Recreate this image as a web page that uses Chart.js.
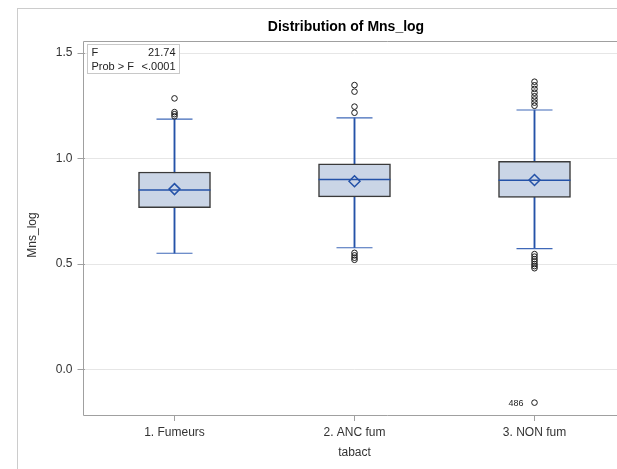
<!DOCTYPE html>
<html>
<head>
<meta charset="utf-8">
<script src="https://cdn.jsdelivr.net/npm/chart.js@4"></script>
<style>
    body { margin: 0; overflow: hidden; background: #fff; }
    .frame { position: absolute; left: 17px; top: 8px; width: 900px; height: 900px; border-left: 1px solid #cccccc; border-top: 1px solid #cccccc; }
    #chart { position: absolute; left: 0; top: 0; }
</style>
</head>
<body>
<div class="frame"></div>
<canvas id="chart" width="692" height="469"></canvas>
<script>
const categories = ['1. Fumeurs', '2. ANC fum', '3. NON fum'];
const q1 = [0.767, 0.818, 0.816];
const q3 = [0.936, 0.975, 0.987];
const medians = [0.851, 0.901, 0.897];
const means = [0.855, 0.892, 0.898];
const whiskerLow = [0.551, 0.577, 0.573];
const whiskerHigh = [1.187, 1.193, 1.230];
const outliers = [
    [1.285, 1.220, 1.210, 1.200],
    [1.348, 1.317, 1.246, 1.217, 0.553, 0.541, 0.530, 0.520],
    [1.364, 1.347, 1.330, 1.312, 1.295, 1.280, 1.265, 1.250,
     0.547, 0.535, 0.523, 0.512, 0.500, 0.490, 0.480, -0.157]
];
const labelledOutlier = { category: 2, value: -0.157, text: '486' };
const yTickValues = [0, 0.5, 1.0, 1.5];
const yTitle = 'Mns_log';
const insetLabels = ['F', 'Prob > F'];
const insetValues = ['21.74', '<.0001'];

const blue = '#2452A8';
const frameGray = '#a0a0a0';
const fontFamily = '"Liberation Sans", Arial, sans-serif';
Chart.defaults.font.family = fontFamily;
Chart.defaults.color = '#333';

const capPoints = [];
categories.forEach((c, i) => {
    capPoints.push({ x: c, y: whiskerLow[i] });
    capPoints.push({ x: c, y: whiskerHigh[i] });
});
const outlierPoints = [];
outliers.forEach((list, i) => list.forEach(v => outlierPoints.push({ x: categories[i], y: v })));

const boxPlotExtras = {
    id: 'boxPlotExtras',
    beforeDatasetsDraw(chart) {
        const { ctx, chartArea } = chart;
        const left = Math.floor(chartArea.left) - 0.5;
        ctx.save();
        ctx.strokeStyle = frameGray;
        ctx.lineWidth = 1;
        ctx.beginPath();
        ctx.moveTo(chart.width, chartArea.top + 0.5);
        ctx.lineTo(left, chartArea.top + 0.5);
        ctx.lineTo(left, chartArea.bottom + 0.5);
        ctx.lineTo(chart.width, chartArea.bottom + 0.5);
        ctx.stroke();
        // y axis title, a little below the middle like the original
        ctx.translate(33, (chartArea.top + chartArea.bottom) / 2 + 7);
        ctx.rotate(-Math.PI / 2);
        ctx.font = '12px ' + fontFamily;
        ctx.fillStyle = '#333';
        ctx.textAlign = 'center';
        ctx.textBaseline = 'middle';
        ctx.fillText(yTitle, 0, 0);
        ctx.restore();
    },
    afterDatasetsDraw(chart) {
        const { ctx, chartArea, scales } = chart;
        ctx.save();
        // inset statistics table
        const bx = Math.floor(chartArea.left) + 3.5, by = chartArea.top + 3.5;
        ctx.fillStyle = '#fff';
        ctx.strokeStyle = '#c8c8c8';
        ctx.fillRect(bx, by, 92, 29);
        ctx.strokeRect(bx, by, 92, 29);
        ctx.font = '11px ' + fontFamily;
        ctx.fillStyle = '#222';
        ctx.textBaseline = 'middle';
        insetLabels.forEach((lab, i) => {
            const ty = by + 8 + i * 14;
            ctx.textAlign = 'left';
            ctx.fillText(lab, bx + 4, ty);
            ctx.textAlign = 'right';
            ctx.fillText(insetValues[i], bx + 88, ty);
        });
        // labelled outlier
        const px = scales.x.getPixelForValue(labelledOutlier.category);
        const py = scales.y.getPixelForValue(labelledOutlier.value);
        ctx.font = '9px ' + fontFamily;
        ctx.textAlign = 'right';
        ctx.fillText(labelledOutlier.text, px - 11, py + 0.5);
        ctx.restore();
    }
};

new Chart(document.getElementById('chart'), {
    type: 'bar',
    data: {
        labels: categories,
        datasets: [
            {
                type: 'line', label: 'outliers', data: outlierPoints, showLine: false,
                pointStyle: 'circle', pointRadius: 2.8, borderWidth: 1,
                pointBorderColor: '#1a1a1a', pointBackgroundColor: 'rgba(255,255,255,0)', order: 0
            },
            {
                type: 'line', label: 'mean', data: categories.map((c, i) => ({ x: c, y: means[i] })), showLine: false,
                pointStyle: 'rectRot', pointRadius: 5.5, pointBorderWidth: 1.5,
                pointBorderColor: blue, pointBackgroundColor: 'rgba(0,0,0,0)', order: 1
            },
            {
                type: 'line', label: 'median', data: categories.map((c, i) => ({ x: c, y: medians[i] })), showLine: false,
                pointStyle: 'line', pointRadius: 36, pointBorderWidth: 1.5, pointBorderColor: blue, order: 2
            },
            {
                type: 'line', label: 'caps', data: capPoints, showLine: false,
                pointStyle: 'line', pointRadius: 18, pointBorderWidth: 1.2, pointBorderColor: '#3f68b8', order: 3
            },
            {
                label: 'box', data: categories.map((c, i) => [q1[i], q3[i]]),
                backgroundColor: '#CAD5E6', borderColor: '#3a3a3a', borderWidth: 1.5,
                borderSkipped: false, barThickness: 72, grouped: false, order: 4
            },
            {
                label: 'whisker', data: categories.map((c, i) => [whiskerLow[i], whiskerHigh[i]]),
                backgroundColor: blue, barThickness: 1.2, grouped: false, order: 5
            }
        ]
    },
    options: {
        responsive: false,
        animation: false,
        events: [],
        layout: { padding: 0 },
        plugins: {
            legend: { display: false },
            tooltip: { enabled: false },
            title: {
                display: true,
                text: 'Distribution of Mns_log',
                color: '#000',
                font: { size: 14, weight: 'bold' },
                padding: { top: 19, bottom: 5.2 }
            }
        },
        scales: {
            x: {
                type: 'category',
                offset: true,
                grid: { drawOnChartArea: false, offset: false, tickLength: 6, tickColor: frameGray },
                border: { display: false },
                ticks: { font: { size: 12 }, color: '#333', padding: 4 },
                title: { display: true, text: 'tabact', font: { size: 12 }, color: '#333', padding: { top: 0, bottom: 8.8 } },
                afterFit(scale) { scale.height = 54; }
            },
            y: {
                min: -0.2156,
                max: 1.557,
                grid: { color: '#e6e6e6', tickLength: 7, tickColor: frameGray },
                border: { display: false },
                afterBuildTicks(scale) { scale.ticks = yTickValues.map(v => ({ value: v })); },
                ticks: { font: { size: 12 }, color: '#333', padding: 5, callback: v => Number(v).toFixed(1) },
                afterFit(scale) { scale.width = 84.5; }
            },
            yRight: {
                position: 'right',
                grid: { display: false },
                border: { display: false },
                ticks: { display: false },
                afterFit(scale) { scale.width = 67.5; }
            }
        }
    },
    plugins: [boxPlotExtras]
});
</script>
</body>
</html>
